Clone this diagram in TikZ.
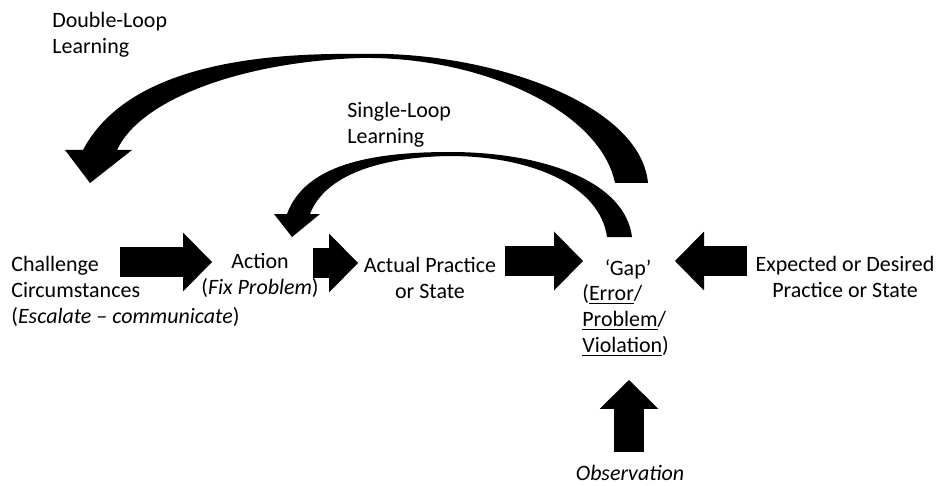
\documentclass[tikz,border=0pt]{standalone}
\usepackage{fontspec}
\setmainfont{Carlito}
\usetikzlibrary{arrows.meta,positioning}

\begin{document}
\begin{tikzpicture}[x=0.02cm, y=-0.02cm,
  txt/.style={inner sep=0pt, font=\fontsize{12.5}{14.8}\selectfont, align=center},
  blk/.style={line width=5.9mm, -{Triangle[length=5.8mm, width=11.8mm, line width=0pt]}},
  loop/.style={fill=black}
]
\useasboundingbox (0,0) rectangle (939,486);

\node[txt, align=left, anchor=west] (dbl) at (52,35) {Double-Loop\\Learning};
\node[txt, align=left, anchor=west] (sgl) at (347,125) {Single-Loop\\Learning};
\node[txt, align=left, anchor=west] (chal) at (11,291)
  {Challenge\\Circumstances\\(\textit{Escalate – communicate})};
\node[txt] (act) at (260,275) {Action\\(\textit{Fix Problem})};
\node[txt] (actual) at (430,278) {Actual Practice\\or State};
\node[txt] (gap) at (628,269) {‘Gap’};
\node[txt, align=left, anchor=north west] (gapwhy) at (582,284)
  {(\underline{Error}/\\\underline{Problem}/\\\underline{Violation})};
\node[txt] (exp) at (845,277) {Expected or Desired\\Practice or State};
\node[txt] (obs) at (630,473) {\textit{Observation}};

\coordinate (chalout) at (120,262);
\coordinate (actin) at (212,262);
\coordinate (actout) at (313,263);
\coordinate (actualin) at (358,263);
\coordinate (actualout) at (505,261);
\coordinate (gapleft) at (583,261);
\coordinate (expout) at (747,261);
\coordinate (gapright) at (675,261);
\coordinate (obsout) at (629,452);
\coordinate (gapbelow) at (629,380);

\draw[blk] (chalout) -- (actin);
\draw[blk] (actout) -- (actualin);
\draw[blk] (actualout) -- (gapleft);
\draw[blk] (expout) -- (gapright);
\draw[blk] (obsout) -- (gapbelow);

\fill[loop] (648,183) .. controls (640,100) and (480,50) .. (360,54)
  .. controls (220,52) and (120,80) .. (83,150) -- (65,150) -- (90,183)
  -- (132,150) -- (117,150) .. controls (140,100) and (240,62) .. (360,58)
  .. controls (480,56) and (600,110) .. (615,183) -- cycle;
\fill[loop] (632,237) .. controls (625,180) and (540,152) .. (450,152)
  .. controls (370,152) and (305,165) .. (287,214) -- (274,214) -- (292,237)
  -- (320,214) -- (310,214) .. controls (325,175) and (380,157) .. (450,156)
  .. controls (530,156) and (600,185) .. (607,237) -- cycle;
\end{tikzpicture}
\end{document}
